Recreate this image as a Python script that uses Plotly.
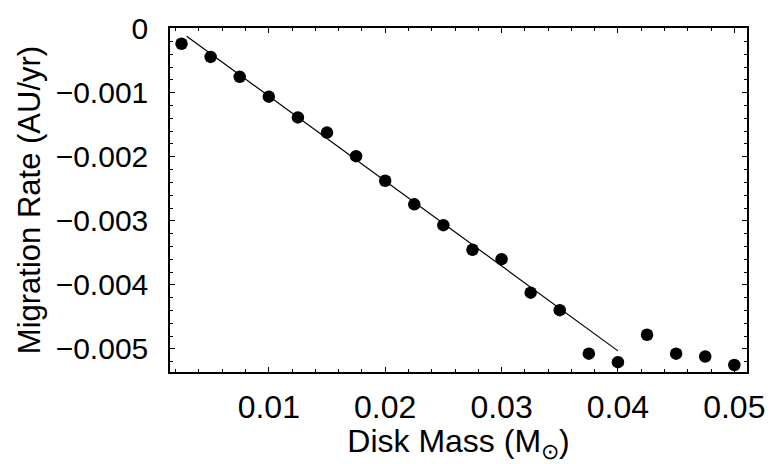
import plotly.graph_objects as go

# Data
disk_mass = [0.0025, 0.005, 0.0075, 0.01, 0.0125, 0.015, 0.0175, 0.02, 0.0225, 0.025,
             0.0275, 0.03, 0.0325, 0.035, 0.0375, 0.04, 0.0425, 0.045, 0.0475, 0.05]
migration_rate = [-0.000236, -0.000442, -0.000752, -0.001062, -0.001386, -0.001622,
                  -0.001991, -0.002375, -0.002743, -0.003068, -0.003451, -0.003599,
                  -0.004122, -0.004395, -0.005074, -0.005206, -0.004779, -0.005074,
                  -0.005118, -0.005251]

fit_x = [0.00294, 0.04]
fit_y = [-0.000118, -0.00503]

x_tickvals = [0.01, 0.02, 0.03, 0.04, 0.05]
x_ticktext = ["0.01", "0.02", "0.03", "0.04", "0.05"]
y_tickvals = [0, -0.001, -0.002, -0.003, -0.004, -0.005]
y_ticktext = ["0", "\u22120.001", "\u22120.002", "\u22120.003", "\u22120.004", "\u22120.005"]

FONT = "Liberation Sans, Arial, Helvetica, sans-serif"

fig = go.Figure()
fig.add_trace(go.Scatter(x=fit_x, y=fit_y, mode="lines",
                         line=dict(color="black", width=1.2), showlegend=False))
fig.add_trace(go.Scatter(x=disk_mass, y=migration_rate, mode="markers",
                         marker=dict(color="black", size=12.5, line=dict(width=0)),
                         showlegend=False))

fig.update_layout(
    width=777, height=464,
    margin=dict(l=170, r=19, t=19, b=82),
    paper_bgcolor="white", plot_bgcolor="white",
    font=dict(family=FONT, color="black"),
)

fig.update_xaxes(
    range=[0.00151, 0.05109],
    tickmode="array", tickvals=x_tickvals, ticktext=x_ticktext,
    tickfont=dict(size=32, family=FONT, color="black"),
    ticks="inside", ticklen=5, tickwidth=1, tickcolor="black",
    minor=dict(tickmode="linear", tick0=0, dtick=0.002, ticks="inside",
               ticklen=3, tickwidth=1, tickcolor="black"),
    showline=True, linecolor="black", linewidth=1.5, mirror="allticks",
    showgrid=False, zeroline=False,
    ticklabelstandoff=6,
    title=dict(text="Disk Mass (M<sub>\u2299</sub>)", font=dict(size=32, family=FONT, color="black"),
               standoff=4),
)
fig.update_yaxes(
    range=[-0.00536, 0.00001],
    tickmode="array", tickvals=y_tickvals, ticktext=y_ticktext,
    tickfont=dict(size=30, family=FONT, color="black"),
    ticks="inside", ticklen=5, tickwidth=1, tickcolor="black",
    minor=dict(tickmode="linear", tick0=0, dtick=0.0002, ticks="inside",
               ticklen=3, tickwidth=1, tickcolor="black"),
    showline=True, linecolor="black", linewidth=1.5, mirror="allticks",
    showgrid=False, zeroline=False,
    ticklabelstandoff=14,
    title=dict(text="Migration Rate (AU/yr)", font=dict(size=31, family=FONT, color="black"),
               standoff=6),
)

fig.write_html("out.html")
